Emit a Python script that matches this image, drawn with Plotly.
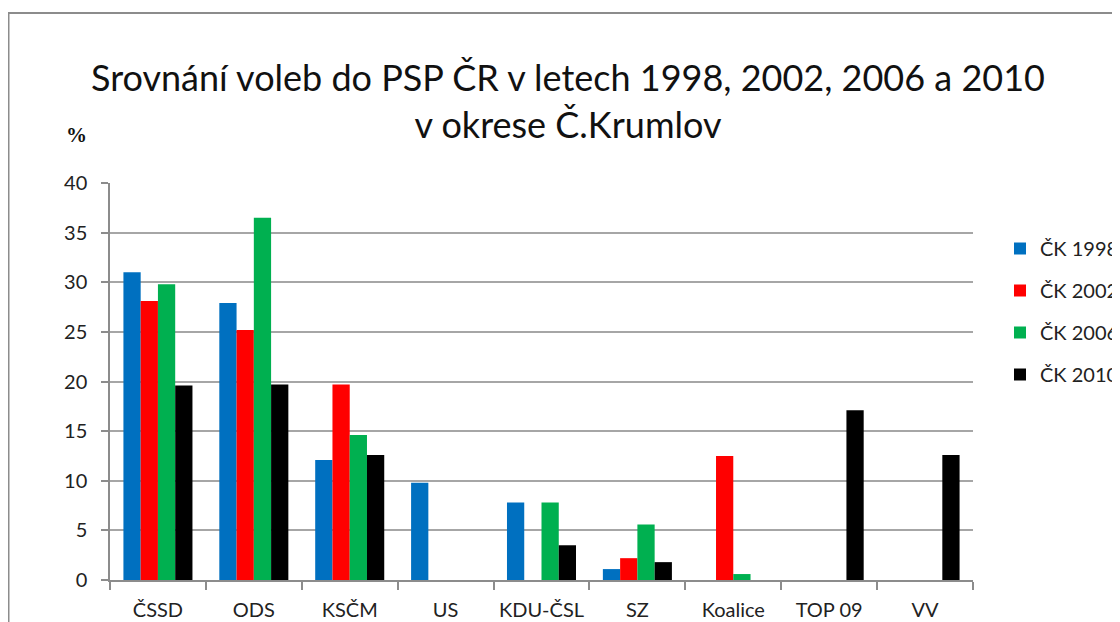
import plotly.graph_objects as go

categories = ["ČSSD", "ODS", "KSČM", "US", "KDU-ČSL", "SZ", "Koalice", "TOP 09", "VV"]
series_names = ["ČK 1998", "ČK 2002", "ČK 2006", "ČK 2010"]
ck1998 = [31.0, 27.9, 12.1, 9.8, 7.8, 1.1, None, None, None]
ck2002 = [28.1, 25.2, 19.7, None, None, 2.2, 12.5, None, None]
ck2006 = [29.8, 36.5, 14.6, None, 7.8, 5.6, 0.6, None, None]
ck2010 = [19.6, 19.7, 12.6, None, 3.5, 1.8, None, 17.1, 12.6]
colors = ["#0070C0", "#FF0000", "#00B050", "#000000"]
y_ticks = [0, 5, 10, 15, 20, 25, 30, 35, 40]

FONT = "Lato, 'Open Sans', sans-serif"
OFF = 8  # browser default body margin
W, H = 1120 - OFF, 622 - OFF
# target page coordinates of the plot area
PX_L, PX_R, PX_T, PX_B = 110, 973, 183, 580
L, T = PX_L - OFF, PX_T - OFF
R = W - (PX_R - OFF)
B = H - (PX_B - OFF)
pw, ph = W - L - R, H - T - B


def px(xp):
    return (xp - PX_L) / pw


def py(yp):
    return (PX_B - yp) / ph


fig = go.Figure()
for i, (name, vals) in enumerate(zip(series_names, [ck1998, ck2002, ck2006, ck2010])):
    fig.add_trace(go.Bar(
        x=categories, y=vals, name=name,
        marker=dict(color=colors[i], line=dict(width=0)),
        legendgroup=name,
    ))

fig.update_layout(
    width=W, height=H,
    margin=dict(l=L, r=R, t=T, b=B, autoexpand=False),
    paper_bgcolor="white", plot_bgcolor="white",
    barmode="group", bargap=0.28, bargroupgap=0,
    font=dict(family=FONT, color="#222", size=20),
    title=dict(
        text="Srovnání voleb do PSP ČR v letech 1998, 2002, 2006 a 2010<br>v okrese Č.Krumlov",
        x=(568 - OFF) / W, xref="container", xanchor="center",
        y=1 - 83 / H, yref="container", yanchor="top",
        font=dict(size=36, family=FONT, color="#111"),
    ),
    showlegend=True,
    legend=dict(
        x=px(1000), xanchor="left",
        y=py(229), yanchor="top",
        font=dict(size=20, family=FONT, color="#222"),
        tracegroupgap=13, bgcolor="rgba(0,0,0,0)",
        itemwidth=30,
    ),
    xaxis=dict(
        showline=True, linecolor="#8c8c8c", linewidth=1.5,
        ticks="outside", tickson="boundaries", ticklen=8, tickcolor="#8c8c8c", tickwidth=1.5,
        showgrid=False, tickfont=dict(size=20, color="#222"),
        ticklabelstandoff=11,
        fixedrange=True,
    ),
    yaxis=dict(
        range=[0, 40], tickvals=y_ticks,
        showline=True, linecolor="#8c8c8c", linewidth=1.5,
        ticks="outside", ticklen=7, tickcolor="#8c8c8c", tickwidth=1.5,
        showgrid=True, gridcolor="#a6a6a6", gridwidth=1.5,
        zeroline=False,
        tickfont=dict(size=20, color="#222"),
        ticklabelstandoff=10,
        fixedrange=True,
    ),
    annotations=[dict(
        text="<b>%</b>", xref="paper", yref="paper",
        x=px(76), y=py(135), xanchor="center", yanchor="middle",
        showarrow=False, font=dict(size=21, family="'Liberation Serif', serif", color="#111"),
    )],
    shapes=[dict(
        type="rect", xref="paper", yref="paper",
        x0=px(8.5), x1=px(1140),
        y0=py(650), y1=py(13),
        line=dict(color="#8c8c8c", width=2), fillcolor="rgba(0,0,0,0)", layer="below",
    )],
)

fig.write_html("out.html")
